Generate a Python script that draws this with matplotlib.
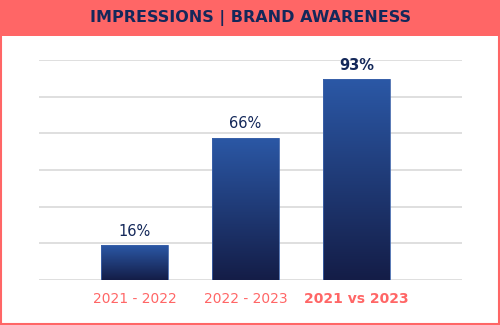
import numpy as np
import matplotlib
matplotlib.use("Agg")
import matplotlib.pyplot as plt
from matplotlib.colors import LinearSegmentedColormap
from matplotlib.patches import Rectangle

# Brand awareness lift by period
periods = ["2021 - 2022", "2022 - 2023", "2021 vs 2023"]
awareness = [16, 66, 93]
labels = ["16%", "66%", "93%"]

coral = "#FF6666"
navy = "#14285A"

fig = plt.figure(figsize=(5, 3.25), dpi=100)
fig.patch.set_facecolor("white")

# header band + frame
fig.add_artist(Rectangle((0, 1 - 36 / 325), 1, 36 / 325, transform=fig.transFigure,
                         facecolor=coral, edgecolor="none", zorder=0))
fig.add_artist(Rectangle((0.002, 0.003), 0.996, 0.995, transform=fig.transFigure,
                         facecolor="none", edgecolor=coral, lw=1.5, zorder=5))
fig.text(0.5, 1 - 18 / 325, "IMPRESSIONS | BRAND AWARENESS", ha="center", va="center",
         fontsize=11.5, fontweight="bold", color=navy)

ax = fig.add_axes([39 / 500, 1 - 280 / 325, (462 - 39) / 500, (280 - 60) / 325])
x = np.arange(len(periods))
bars = ax.bar(x, awareness, width=0.6, color="none", edgecolor="#3D63AA", lw=0.6, zorder=3)

# vertical gradient fill for each bar
grad_cmap = LinearSegmentedColormap.from_list("bar", ["#141D47", "#2B58A6"])
grad = np.linspace(0, 1, 256).reshape(-1, 1)
for b in bars:
    x0, y0 = b.get_x(), b.get_y()
    w, h = b.get_width(), b.get_height()
    im = ax.imshow(grad, cmap=grad_cmap, origin="lower", aspect="auto",
                   extent=(x0, x0 + w, y0, y0 + h), zorder=2)
    im.set_clip_path(b)

for i, (v, lab) in enumerate(zip(awareness, labels)):
    ax.text(i, v + 3, lab, ha="center", va="bottom", fontsize=10.5, color=navy,
            fontweight="bold" if i == 2 else "normal")

ax.set_xlim(-0.86, 2.95)
ax.set_ylim(0, 102)
ax.set_yticks(np.linspace(0, 102, 7))
ax.yaxis.grid(True, color="#D9D9D9", lw=1.2, zorder=0)
ax.set_axisbelow(True)
ax.tick_params(axis="y", left=False, labelleft=False)
ax.tick_params(axis="x", bottom=False, pad=5)
ax.set_xticks(x)
ax.set_xticklabels(periods, fontsize=10, color=coral)
ax.get_xticklabels()[2].set_fontweight("bold")
for s in ax.spines.values():
    s.set_visible(False)

plt.savefig("out.png", dpi=100)
